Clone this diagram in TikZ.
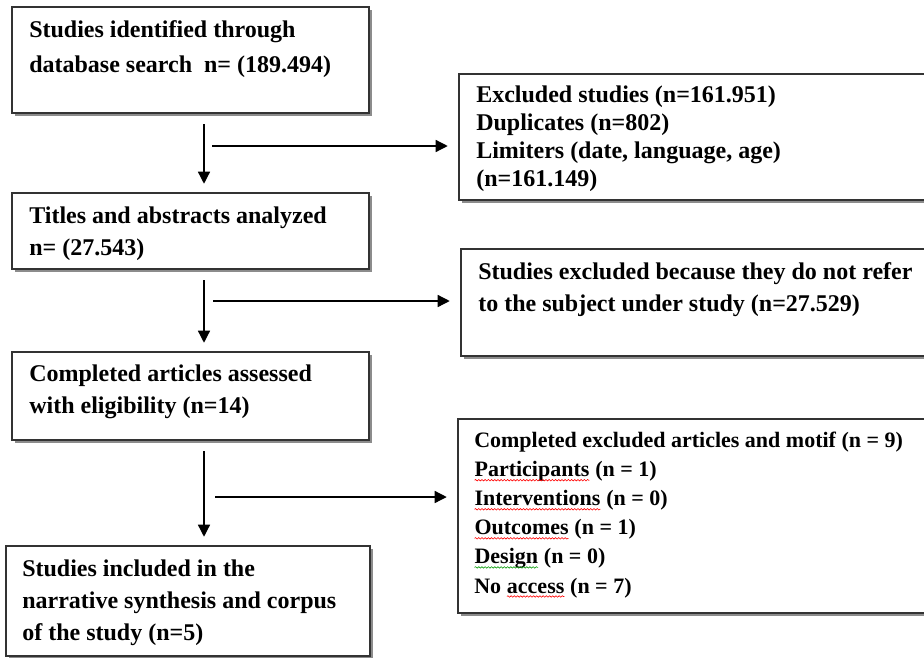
\documentclass[tikz,border=0pt]{standalone}
\usepackage{fontspec}
\setmainfont{Liberation Serif}
\usetikzlibrary{positioning, fit, shadows, arrows.meta, decorations.pathmorphing}

\tikzset{
    box/.style={draw=black!80, line width=0.9pt, fill=white, inner sep=0pt,
        drop shadow={shadow xshift=2.2pt, shadow yshift=-2.2pt, fill=black!45, opacity=1}},
    txt/.style={inner sep=0pt, align=left, anchor=base west, font=\bfseries\fontsize{18}{24}\selectfont},
    flow/.style={line width=0.95pt, -{Triangle[length=9pt,width=9pt]}}
}
% spell-check squiggle under a word
\newcommand{\squiggle}[2][red]{\tikz[baseline=(sw.base)]{\node[inner sep=0pt, outer sep=0pt] (sw) {#2};
    \draw[#1, line width=0.45pt, decorate, decoration={snake, amplitude=0.55pt, segment length=2.4pt}]
        ([yshift=-2.6pt]sw.base west) -- ([yshift=-2.6pt]sw.base east);}}

\begin{document}
\begin{tikzpicture}[x=0.75pt, y=-0.75pt]
    \useasboundingbox (0,0) rectangle (924,657);
    \clip (0,0) rectangle (924,657);

    % left column
    \node[box, fit={(12,7) (369,113)}] (ident) {};
    \node[box, fit={(12,193) (369,269)}] (titles) {};
    \node[box, fit={(12,352) (369,440)}] (assess) {};
    \node[box, fit={(6,546) (370,656)}] (incl) {};

    % right column
    \node[box, fit={(459,74) (940,200)}] (excla) {};
    \node[box, fit={(461,249) (940,356)}] (exclb) {};
    \node[box, fit={(458,419) (940,613)}] (exclc) {};

    % texts, placed at the baseline of their last line
    \node[txt, font=\bfseries\fontsize{18}{26}\selectfont] (identtxt) at (29,72)
        {Studies identified through\\database search\ \ n= (189.494)};
    \node[txt] (titlestxt) at (29,255) {Titles and abstracts analyzed\\n= (27.543)};
    \node[txt, font=\bfseries\fontsize{18}{23.3}\selectfont] (assesstxt) at (29,413)
        {Completed articles assessed\\with eligibility (n=14)};
    \node[txt] (incltxt) at (22,640)
        {Studies included in the\\narrative synthesis and corpus\\of the study (n=5)};

    \node[txt, font=\bfseries\fontsize{18}{20.8}\selectfont] (exclatxt) at (476,186)
        {Excluded studies (n=161.951)\\Duplicates (n=802)\\Limiters (date, language, age)\\(n=161.149)};
    \node[txt, font=\bfseries\fontsize{18}{23.3}\selectfont] (exclbtxt) at (478,311)
        {Studies excluded because they do not refer\\to the subject under study (n=27.529)};
    \node[txt, font=\bfseries\fontsize{16.5}{21.8}\selectfont] (exclctxt) at (474,593)
        {Completed excluded articles and motif (n = 9)\\
         \squiggle{Participants} (n = 1)\\
         \squiggle{Interventions} (n = 0)\\
         \squiggle{Outcomes} (n = 1)\\
         \squiggle[green!60!black]{Design} (n = 0)\\
         No \squiggle{access} (n = 7)};

    % connectors
    \coordinate (spine) at (204,0);
    \coordinate (outa) at (212,146);
    \coordinate (outb) at (213,301);
    \coordinate (outc) at (215,497);

    \foreach \a/\b in {ident/titles, titles/assess, assess/incl}{%
        \draw[flow] ([yshift=-8pt]\a.south -| spine) -- ([yshift=6.5pt]\b.north -| spine);
    }
    \foreach \o/\b in {outa/excla, outb/exclb, outc/exclc}{%
        \draw[flow, shorten >=8pt] (\o) -- (\o -| \b.west);
    }
\end{tikzpicture}
\end{document}
